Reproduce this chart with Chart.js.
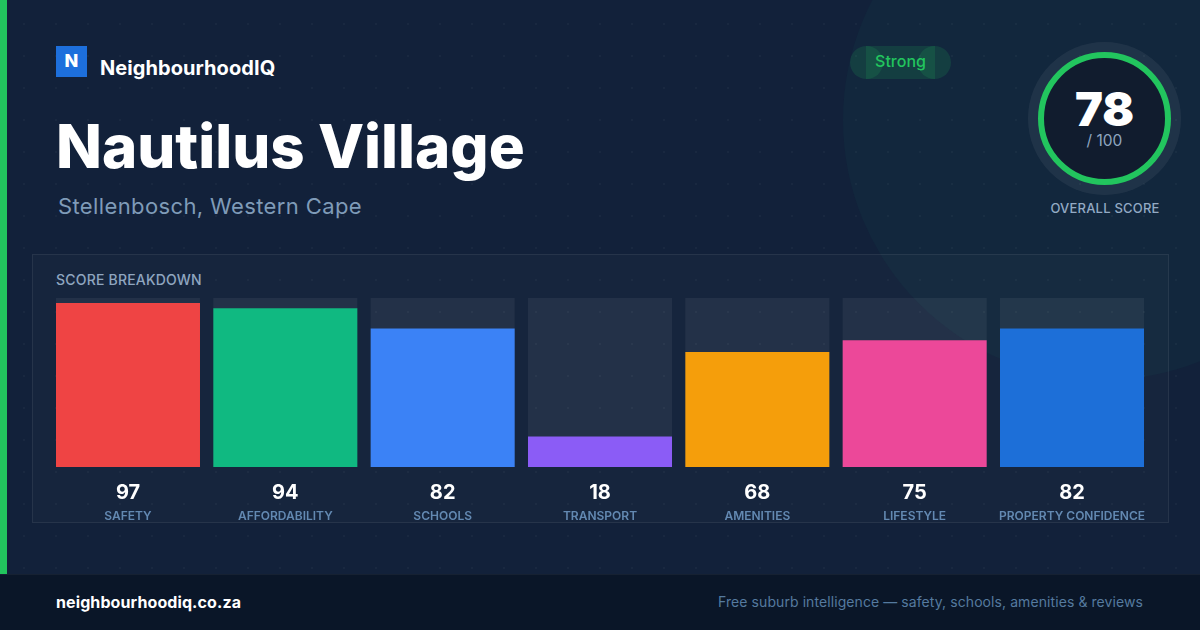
<!DOCTYPE html>
<html>
<head>
<meta charset="utf-8">
<script src="https://cdn.jsdelivr.net/npm/chart.js@4"></script>
<style>
* { margin: 0; padding: 0; box-sizing: border-box; }
body { width: 1200px; height: 630px; overflow: hidden; background: #12213a; font-family: Inter, sans-serif; position: relative; }
.dots { position: absolute; inset: 0; background-image: radial-gradient(circle at 24px 24px, rgba(255,255,255,.03) 1px, transparent 1.5px); background-size: 32px 32px; }
.blob { position: absolute; left: 843px; top: -140px; width: 520px; height: 520px; border-radius: 50%; background: rgba(16,185,129,.045); }
.strip { position: absolute; left: 0; top: 0; width: 7px; height: 630px; background: #22c55e; }
.logo { position: absolute; left: 56px; top: 46px; width: 31px; height: 31px; background: #1d6fdc; color: #fff; font-weight: 800; font-size: 18px; line-height: 30px; text-align: center; }
.brand { position: absolute; left: 100px; top: 55px; color: #fff; font-weight: 700; font-size: 20px; line-height: 26px; letter-spacing: .07px; }
h1 { position: absolute; left: 56px; top: 109px; color: #fff; font-weight: 800; font-size: 60px; line-height: 74px; white-space: nowrap; }
.sub { position: absolute; left: 58px; top: 192px; color: #7f9bb8; font-size: 22px; line-height: 28px; letter-spacing: .38px; }
.badge { position: absolute; left: 850px; top: 46px; width: 101px; height: 33px; }
.badge u { position: absolute; top: 0; width: 33px; height: 33px; border-radius: 50%; background: rgba(34,197,94,.15); }
.badge span { position: absolute; left: 16px; right: 16px; top: 0; height: 33px; background: rgba(34,197,94,.15); color: #22c55e; font-size: 16px; font-weight: 500; line-height: 31px; text-align: center; }
.ring { position: absolute; left: 1038px; top: 52px; width: 133px; height: 133px; border-radius: 50%; border: 6px solid #22c55e; background: #111c2e; box-shadow: 0 0 0 10px rgba(255,255,255,.06); }
.ring b { position: absolute; left: 0; right: 0; top: 31px; text-align: center; color: #fff; font-size: 47px; font-weight: 900; line-height: 40px; }
.ring i { position: absolute; left: 0; right: 0; top: 73px; text-align: center; color: #8fa6c0; font-size: 15.5px; font-style: normal; line-height: 20px; }
.overall { position: absolute; left: 1005px; width: 200px; top: 199px; text-align: center; color: #93aac4; font-size: 13px; font-weight: 500; line-height: 18px; letter-spacing: .2px; }
.panel { position: absolute; left: 32px; top: 254px; width: 1137px; height: 269px; background: rgba(255,255,255,.02); border: 1px solid rgba(255,255,255,.07); }
.ptitle { position: absolute; left: 56px; top: 271px; color: #8fa6c0; font-size: 14px; font-weight: 500; line-height: 18px; letter-spacing: .2px; }
.chartbox { position: absolute; left: 0; top: 0; width: 1200px; height: 630px; }
.foot { position: absolute; left: 0; top: 574px; width: 1200px; height: 56px; background: #0a1628; border-top: 1px solid rgba(255,255,255,.05); }
.site { position: absolute; left: 56px; top: 17px; color: #fff; font-size: 16px; font-weight: 700; line-height: 20px; letter-spacing: .1px; }
.tag { position: absolute; right: 57px; top: 17px; color: #557a9f; font-size: 14px; line-height: 20px; letter-spacing: .08px; }
</style>
</head>
<body>
<div class="blob"></div>
<div class="dots"></div>
<div class="strip"></div>
<div class="logo">N</div>
<div class="brand">NeighbourhoodIQ</div>
<h1>Nautilus Village</h1>
<div class="sub">Stellenbosch, Western Cape</div>
<div class="badge"><u style="left:0"></u><u style="right:0"></u><span>Strong</span></div>
<div class="ring"><b>78</b><i>/ 100</i></div>
<div class="overall">OVERALL SCORE</div>
<div class="panel"></div>
<div class="ptitle">SCORE BREAKDOWN</div>
<div class="chartbox"><canvas id="scoreChart" width="1200" height="630"></canvas></div>
<div class="foot">
  <div class="site">neighbourhoodiq.co.za</div>
  <div class="tag">Free suburb intelligence — safety, schools, amenities &amp; reviews</div>
</div>
<script>
const categories = ['SAFETY', 'AFFORDABILITY', 'SCHOOLS', 'TRANSPORT', 'AMENITIES', 'LIFESTYLE', 'PROPERTY CONFIDENCE'];
const scores = [97, 94, 82, 18, 68, 75, 82];
const maxScores = [100, 100, 100, 100, 100, 100, 100];
const barColors = ['#ef4444', '#10b981', '#3b82f6', '#8b5cf6', '#f59e0b', '#ec4899', '#1d6fd8'];

document.addEventListener('DOMContentLoaded', () => {
    let ctx = document.querySelector('#scoreChart').getContext('2d');

    new Chart(ctx, {
        type: 'bar',
        data: {
            labels: categories,
            datasets: [
                { data: scores, backgroundColor: barColors, barThickness: 144, grouped: false, inflateAmount: 0, order: 1 },
                { data: maxScores, backgroundColor: 'rgba(255,255,255,.06)', barThickness: 144, grouped: false, inflateAmount: 0, order: 2 }
            ]
        },
        options: {
            responsive: false,
            animation: false,
            layout: { padding: { left: 49.33, right: 49.33, top: 298, bottom: 104 } },
            plugins: { legend: { display: false }, tooltip: { enabled: false } },
            scales: {
                y: { display: false, min: 0, max: 100 },
                // score numbers sit right under the bars, category names under them
                xScore: {
                    position: 'bottom',
                    labels: scores.map(String),
                    grid: { display: false },
                    border: { display: false },
                    ticks: { color: '#fff', font: { family: 'Inter', size: 20, weight: '700' }, padding: 6, maxRotation: 0, autoSkip: false },
                    afterFit: (s) => { s.height = 34; }
                },
                x: {
                    position: 'bottom',
                    grid: { display: false },
                    border: { display: false },
                    ticks: { color: '#6389b2', font: { family: 'Inter', size: 12, weight: '600' }, padding: 0, maxRotation: 0, autoSkip: false },
                    afterFit: (s) => { s.height = 25; }
                }
            }
        }
    });
});
</script>
</body>
</html>
